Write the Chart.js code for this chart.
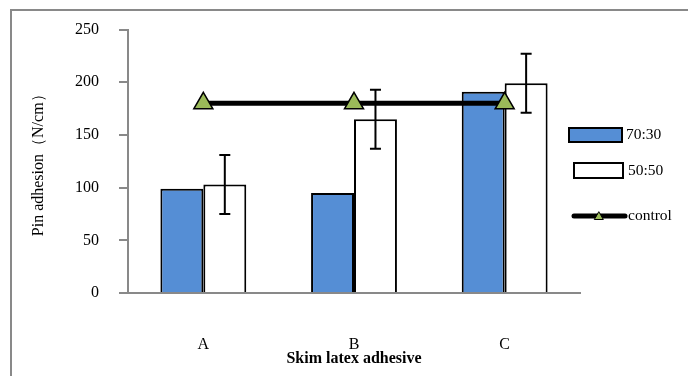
<!DOCTYPE html>
<html>
<head>
<meta charset="utf-8">
<script src="https://cdn.jsdelivr.net/npm/chart.js@4/dist/chart.umd.min.js"></script>
<style>
  body { margin: 0; background: #fff; }
  #wrap { width: 688px; height: 376px; }
</style>
</head>
<body>
<div id="wrap"><canvas id="adhesion"></canvas></div>
<script>
// Pin adhesion per skim latex adhesive
const categories = ['A', 'B', 'C'];
const ratio7030 = [99, 95, 191];
const ratio5050 = [103, 165, 199];
const error5050 = [28, 28, 28];
const control = [180, 180, 180];
const yTicks = [0, 50, 100, 150, 200, 250];

const serif = "'Liberation Serif', 'Times New Roman', serif";
const axisGray = '#898989';

// grey frame around the whole figure
const framePlugin = {
  id: 'frame',
  beforeDraw(chart) {
    const ctx = chart.ctx;
    ctx.save();
    ctx.strokeStyle = axisGray;
    ctx.lineWidth = 2;
    ctx.strokeRect(11, 10, chart.width + 20, chart.height + 20);
    ctx.restore();
  }
};

// +/- error bars on the 50:50 bars
const errorBarPlugin = {
  id: 'errorBars',
  afterDatasetsDraw(chart) {
    const ctx = chart.ctx;
    const y = chart.scales.y;
    const meta = chart.getDatasetMeta(2);
    ctx.save();
    ctx.strokeStyle = '#000';
    ctx.lineWidth = 2;
    meta.data.forEach((bar, i) => {
      const top = y.getPixelForValue(ratio5050[i] + error5050[i]);
      const bottom = y.getPixelForValue(ratio5050[i] - error5050[i]);
      ctx.beginPath();
      ctx.moveTo(bar.x, top);
      ctx.lineTo(bar.x, bottom);
      ctx.moveTo(bar.x - 5.5, top);
      ctx.lineTo(bar.x + 5.5, top);
      ctx.moveTo(bar.x - 5.5, bottom);
      ctx.lineTo(bar.x + 5.5, bottom);
      ctx.stroke();
    });
    ctx.restore();
  }
};

// legend on the right, each entry has its own box size
const sideLegend = {
  id: 'sideLegend',
  afterDraw(chart) {
    const ctx = chart.ctx;
    const ds = chart.data.datasets;
    ctx.save();
    ctx.font = '15.5px ' + serif;
    ctx.fillStyle = '#000';
    ctx.textBaseline = 'middle';
    ctx.lineWidth = 2;
    ctx.strokeStyle = '#000';

    ctx.fillStyle = ds[1].backgroundColor;
    ctx.fillRect(569, 128, 53, 14);
    ctx.strokeRect(569, 128, 53, 14);
    ctx.fillStyle = '#000';
    ctx.fillText(ds[1].label, 626, 135);

    ctx.fillStyle = ds[2].backgroundColor;
    ctx.fillRect(574, 163, 49, 15);
    ctx.strokeRect(574, 163, 49, 15);
    ctx.fillStyle = '#000';
    ctx.fillText(ds[2].label, 628, 171);

    ctx.lineWidth = 5;
    ctx.lineCap = 'round';
    ctx.beginPath();
    ctx.moveTo(574, 216);
    ctx.lineTo(625, 216);
    ctx.stroke();
    ctx.fillStyle = ds[0].pointBackgroundColor;
    ctx.lineWidth = 1;
    Chart.helpers.drawPoint(ctx, { pointStyle: 'triangle', radius: 5, borderWidth: 1 }, 599, 217);
    ctx.fillStyle = '#000';
    ctx.fillText(ds[0].label, 628, 216);
    ctx.restore();
  }
};

new Chart(document.getElementById('adhesion'), {
  type: 'bar',
  data: {
    labels: categories,
    datasets: [
      {
        type: 'line',
        label: 'control',
        data: control,
        order: 0,
        borderColor: '#000',
        borderWidth: 5,
        pointStyle: 'triangle',
        pointRadius: 11,
        pointBackgroundColor: '#9bbb59',
        pointBorderColor: '#000',
        pointBorderWidth: 1.5
      },
      {
        label: '70:30',
        data: ratio7030,
        order: 1,
        backgroundColor: '#558ed5',
        borderColor: '#000',
        borderWidth: 2
      },
      {
        label: '50:50',
        data: ratio5050,
        order: 1,
        backgroundColor: '#ffffff',
        borderColor: '#000',
        borderWidth: 2
      }
    ]
  },
  options: {
    responsive: true,
    maintainAspectRatio: false,
    animation: false,
    layout: { padding: { left: 0, right: 108, top: 28, bottom: 0 } },
    datasets: {
      bar: { categoryPercentage: 0.57, barPercentage: 1.0 }
    },
    plugins: {
      legend: { display: false },
      tooltip: { enabled: false }
    },
    scales: {
      x: {
        grid: { display: false },
        border: { display: true, color: axisGray, width: 2 },
        ticks: { color: '#000', padding: 34, font: { family: serif, size: 16 } },
        title: {
          display: true,
          text: 'Skim latex adhesive',
          color: '#000',
          padding: { top: 0, bottom: 8 },
          font: { family: serif, size: 16, weight: 'bold' }
        },
        afterFit(scale) { scale.height = 83; }
      },
      y: {
        min: 0,
        max: 250,
        afterBuildTicks(scale) { scale.ticks = yTicks.map(v => ({ value: v })); },
        grid: {
          drawOnChartArea: false,
          drawTicks: true,
          tickLength: 9,
          color: axisGray,
          lineWidth: 2
        },
        border: { display: true, color: axisGray, width: 2 },
        ticks: { color: '#000', padding: 20, font: { family: serif, size: 16 } },
        title: {
          display: true,
          text: 'Pin adhesion（N/cm）',
          color: '#000',
          padding: { top: 29, bottom: 0 },
          font: { family: serif, size: 16 }
        },
        afterFit(scale) { scale.width = 128; }
      }
    }
  },
  plugins: [framePlugin, errorBarPlugin, sideLegend]
});
</script>
</body>
</html>
